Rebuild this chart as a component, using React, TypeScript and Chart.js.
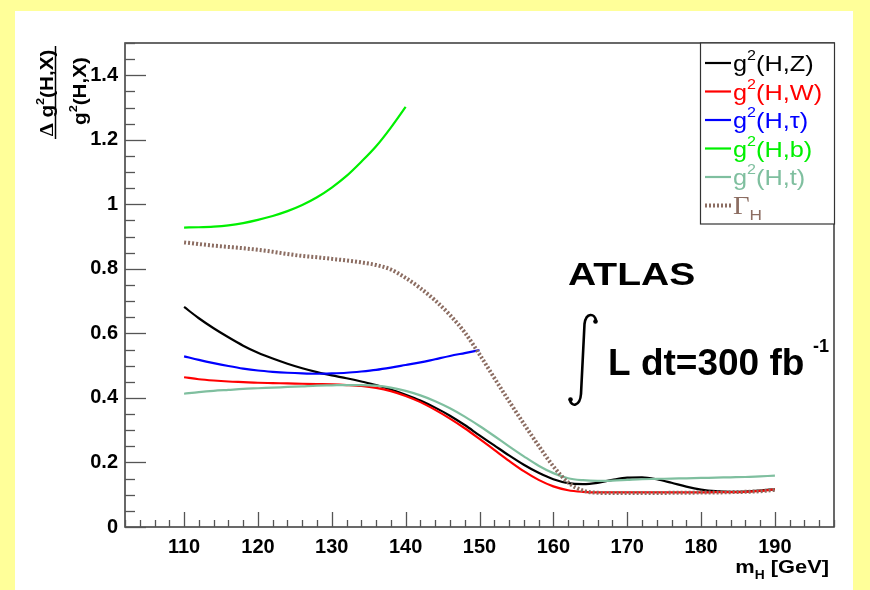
import React, { useEffect, useRef } from 'react';
import { Chart, registerables } from 'chart.js';

Chart.register(...registerables);

const FONT = '"Liberation Sans", Arial, Helvetica, sans-serif';
const SERIF = '"Liberation Serif", "Times New Roman", serif';

// Higgs mass points (GeV)
const massFull = [110, 112, 114, 116, 118, 120, 122, 124, 126, 128, 130, 132, 134, 136, 138, 140, 142, 144, 146, 148, 150, 152, 154, 156, 158, 160, 162, 164, 166, 168, 170, 172, 174, 176, 178, 180, 182, 184, 186, 188, 190];
const massB = [110, 112, 114, 116, 118, 120, 122, 124, 126, 128, 130, 132, 134, 136, 138, 140];
const massTau = [110, 112, 114, 116, 118, 120, 122, 124, 126, 128, 130, 132, 134, 136, 138, 140, 142, 144, 146, 148, 150];

const gZ = [0.682, 0.647, 0.616, 0.588, 0.562, 0.54, 0.522, 0.506, 0.492, 0.48, 0.47, 0.461, 0.451, 0.44, 0.426, 0.41, 0.392, 0.37, 0.345, 0.316, 0.284, 0.253, 0.222, 0.193, 0.168, 0.148, 0.136, 0.133, 0.137, 0.146, 0.153, 0.154, 0.148, 0.137, 0.125, 0.116, 0.111, 0.109, 0.11, 0.113, 0.117];
const gW = [0.464, 0.458, 0.454, 0.451, 0.449, 0.447, 0.446, 0.445, 0.444, 0.443, 0.442, 0.44, 0.437, 0.431, 0.421, 0.406, 0.387, 0.363, 0.336, 0.306, 0.273, 0.239, 0.205, 0.173, 0.146, 0.126, 0.114, 0.109, 0.107, 0.107, 0.107, 0.107, 0.107, 0.107, 0.107, 0.107, 0.108, 0.108, 0.109, 0.112, 0.117];
const gTau = [0.529, 0.518, 0.508, 0.499, 0.491, 0.485, 0.481, 0.478, 0.476, 0.475, 0.476, 0.478, 0.482, 0.487, 0.494, 0.502, 0.51, 0.52, 0.53, 0.539, 0.548];
const gB = [0.928, 0.929, 0.931, 0.935, 0.942, 0.952, 0.964, 0.979, 0.998, 1.022, 1.052, 1.088, 1.132, 1.18, 1.238, 1.302];
const gT = [0.413, 0.418, 0.422, 0.425, 0.428, 0.43, 0.432, 0.434, 0.436, 0.438, 0.439, 0.44, 0.44, 0.438, 0.432, 0.422, 0.408, 0.39, 0.368, 0.342, 0.313, 0.282, 0.25, 0.219, 0.19, 0.167, 0.151, 0.145, 0.143, 0.144, 0.146, 0.148, 0.149, 0.15, 0.151, 0.152, 0.153, 0.154, 0.155, 0.157, 0.159];
const gammaH = [0.882, 0.877, 0.872, 0.868, 0.864, 0.859, 0.853, 0.846, 0.84, 0.836, 0.831, 0.826, 0.82, 0.812, 0.798, 0.772, 0.74, 0.702, 0.657, 0.603, 0.535, 0.462, 0.39, 0.32, 0.252, 0.188, 0.138, 0.113, 0.106, 0.105, 0.105, 0.105, 0.105, 0.106, 0.106, 0.107, 0.107, 0.108, 0.109, 0.111, 0.115];

const xMajorTicks = [110, 120, 130, 140, 150, 160, 170, 180, 190];
const yMajorTicks = [0, 0.2, 0.4, 0.6, 0.8, 1, 1.2, 1.4];
const seriesLabels = ['g²(H,Z)', 'g²(H,W)', 'g²(H,τ)', 'g²(H,b)', 'g²(H,t)', 'Γ_H'];
const seriesColors = ['#000000', '#ff0000', '#0000ff', '#00f000', '#7fbf9f', '#8c6d62'];

type Part = { t: string; s: number; dy?: number; serif?: boolean };

function partFont(p: Part, weight: string) {
  return `${weight} ${p.s}px ${p.serif ? SERIF : FONT}`;
}
function richWidth(ctx: CanvasRenderingContext2D, parts: Part[], weight: string) {
  let w = 0;
  for (const p of parts) {
    ctx.font = partFont(p, weight);
    w += ctx.measureText(p.t).width;
  }
  return w;
}
function drawRich(ctx: CanvasRenderingContext2D, parts: Part[], x: number, y: number, weight: string, sx: number, align: string, color: string) {
  const w = richWidth(ctx, parts, weight) * sx;
  const x0 = align === 'left' ? x : align === 'center' ? x - w / 2 : x - w;
  ctx.save();
  ctx.translate(x0, y);
  ctx.scale(sx, 1);
  ctx.fillStyle = color;
  ctx.textBaseline = 'alphabetic';
  ctx.textAlign = 'left';
  let cx = 0;
  for (const p of parts) {
    ctx.font = partFont(p, weight);
    ctx.fillText(p.t, cx, p.dy || 0);
    cx += ctx.measureText(p.t).width;
  }
  ctx.restore();
}
function labelParts(label: string, size: number): Part[] {
  if (label.startsWith('g²')) {
    return [{ t: 'g', s: size }, { t: '2', s: Math.round(size * 0.62), dy: -size * 0.5 }, { t: label.slice(2), s: size }];
  }
  return [{ t: 'Γ', s: size + 3, serif: true }, { t: 'H', s: Math.round(size * 0.7), dy: size * 0.3 }];
}

const overlay = {
  id: 'rootStyle',
  beforeDraw(chart: any) {
    const ctx = chart.ctx as CanvasRenderingContext2D;
    ctx.save();
    ctx.fillStyle = '#ffff99';
    ctx.fillRect(0, 0, chart.width, chart.height);
    ctx.fillStyle = '#ffffff';
    ctx.fillRect(15, 11, 838, chart.height - 11);
    ctx.restore();
  },
  afterDatasetsDraw(chart: any) {
    const ctx = chart.ctx as CanvasRenderingContext2D;
    const { left, right, top, bottom } = chart.chartArea;
    const xs = chart.scales.x;
    const ys = chart.scales.y;
    ctx.save();
    // frame
    ctx.strokeStyle = '#444';
    ctx.lineWidth = 1.6;
    ctx.strokeRect(left, top, right - left, bottom - top);
    // x ticks (inside)
    ctx.strokeStyle = '#555';
    ctx.lineWidth = 1.3;
    for (let v = Math.ceil(xs.min / 2) * 2; v <= xs.max; v += 2) {
      const px = Math.round(xs.getPixelForValue(v)) + 0.5;
      const len = v % 10 === 0 ? 15 : 7;
      ctx.beginPath();
      ctx.moveTo(px, bottom);
      ctx.lineTo(px, bottom - len);
      ctx.stroke();
    }
    // y ticks (inside)
    for (let i = 0; i <= 30; i++) {
      const v = i * 0.05;
      if (v > ys.max + 1e-9) break;
      const py = Math.round(ys.getPixelForValue(v)) + 0.5;
      const len = i % 4 === 0 ? 21 : 10;
      ctx.beginPath();
      ctx.moveTo(left, py);
      ctx.lineTo(left + len, py);
      ctx.stroke();
    }

    // legend
    const lx0 = 700, lx1 = right, ly0 = top, ly1 = 224;
    ctx.fillStyle = '#ffffff';
    ctx.fillRect(lx0, ly0, lx1 - lx0, ly1 - ly0);
    ctx.strokeStyle = '#333';
    ctx.lineWidth = 1.2;
    ctx.strokeRect(lx0 + 0.5, ly0, lx1 - lx0, ly1 - ly0);
    chart.data.datasets.forEach((ds: any, i: number) => {
      const cy = 63 + i * 28.5;
      ctx.save();
      ctx.strokeStyle = ds.borderColor;
      ctx.lineWidth = ds.borderWidth;
      ctx.setLineDash(ds.borderDash || []);
      ctx.beginPath();
      ctx.moveTo(705, cy);
      ctx.lineTo(731, cy);
      ctx.stroke();
      ctx.restore();
      drawRich(ctx, labelParts(ds.label, 22), 733, cy + 8, 'normal', 1.15, 'left', ds.borderColor);
    });

    // ATLAS label
    drawRich(ctx, [{ t: 'ATLAS', s: 32 }], 568, 285, 'bold', 1.22, 'left', '#000');
    // integral sign
    ctx.strokeStyle = '#000';
    ctx.fillStyle = '#000';
    ctx.lineWidth = 2.6;
    ctx.beginPath();
    ctx.moveTo(596, 321);
    ctx.bezierCurveTo(595, 313, 586, 312, 584.5, 324);
    ctx.lineTo(581, 394);
    ctx.bezierCurveTo(580, 407, 571, 407, 570, 400);
    ctx.stroke();
    ctx.beginPath();
    ctx.arc(595.5, 321.5, 2.3, 0, Math.PI * 2);
    ctx.fill();
    ctx.beginPath();
    ctx.arc(570.5, 399.5, 2.3, 0, Math.PI * 2);
    ctx.fill();
    drawRich(ctx, [{ t: 'L dt=300 fb', s: 37 }], 608, 375, 'bold', 1.0, 'left', '#000');
    drawRich(ctx, [{ t: '-1', s: 18 }], 813, 352, 'bold', 1.0, 'left', '#000');

    // x-axis title
    drawRich(ctx, [{ t: 'm', s: 19 }, { t: 'H', s: 12, dy: 6 }, { t: ' [GeV]', s: 19 }], 829, 573, 'bold', 1.15, 'right', '#000');

    // y-axis title (fraction, rotated)
    ctx.save();
    ctx.translate(53, 93);
    ctx.rotate(-Math.PI / 2);
    drawRich(ctx, [{ t: 'Δ', s: 18, serif: true }, { t: ' g', s: 18 }, { t: '2', s: 11, dy: -9 }, { t: '(H,X)', s: 18 }], 0, 0, 'bold', 1.15, 'center', '#000');
    ctx.strokeStyle = '#000';
    ctx.lineWidth = 1.5;
    ctx.beginPath();
    ctx.moveTo(-46, 2.5);
    ctx.lineTo(47, 2.5);
    ctx.stroke();
    ctx.restore();
    ctx.save();
    ctx.translate(86, 91);
    ctx.rotate(-Math.PI / 2);
    drawRich(ctx, [{ t: 'g', s: 18 }, { t: '2', s: 11, dy: -9 }, { t: '(H,X)', s: 18 }], 0, 0, 'bold', 1.15, 'center', '#000');
    ctx.restore();

    ctx.restore();
  },
};

function pts(xs: number[], ys: number[]) {
  return xs.map((x, i) => ({ x, y: ys[i] }));
}

export default function App() {
  const ref = useRef<HTMLCanvasElement | null>(null);
  useEffect(() => {
    if (!ref.current) return;
    const seriesData = [pts(massFull, gZ), pts(massFull, gW), pts(massTau, gTau), pts(massB, gB), pts(massFull, gT), pts(massFull, gammaH)];
    const datasets = seriesData.map((data, i) => ({
      label: seriesLabels[i],
      data,
      borderColor: seriesColors[i],
      backgroundColor: seriesColors[i],
      borderWidth: i === 5 ? 4 : 2.2,
      borderDash: i === 5 ? [2, 2] : [],
      pointRadius: 0,
      fill: false,
      cubicInterpolationMode: 'monotone' as const,
      order: 5 - i,
    }));
    const chart = new Chart(ref.current, {
      type: 'line',
      data: { datasets },
      options: {
        animation: false,
        responsive: false,
        maintainAspectRatio: false,
        layout: { padding: { left: 0, top: 43, right: 36, bottom: 0 } },
        plugins: { legend: { display: false }, tooltip: { enabled: false }, title: { display: false } },
        scales: {
          x: {
            type: 'linear',
            min: 102,
            max: 198,
            grid: { display: false, drawTicks: false },
            border: { display: false },
            afterBuildTicks: (s: any) => { s.ticks = xMajorTicks.map((v) => ({ value: v })); },
            afterFit: (s: any) => { s.height = 63; },
            ticks: { color: '#000', font: { family: FONT, size: 20, weight: 'bold' }, padding: 8, maxRotation: 0, autoSkip: false },
          },
          y: {
            type: 'linear',
            min: 0,
            max: 1.5,
            grid: { display: false, drawTicks: false },
            border: { display: false },
            afterBuildTicks: (s: any) => { s.ticks = yMajorTicks.map((v) => ({ value: v })); },
            afterFit: (s: any) => { s.width = 125; },
            ticks: {
              color: '#000',
              font: { family: FONT, size: 20, weight: 'bold' },
              padding: 7,
              autoSkip: false,
              callback: (v: any) => String(Number(Number(v).toFixed(2))),
            },
          },
        },
      },
      plugins: [overlay],
    });
    return () => chart.destroy();
  }, []);
  return (
    <div style={{ position: 'absolute', left: 0, top: 0, width: 870, height: 590 }}>
      <canvas ref={ref} width={870} height={590} style={{ width: 870, height: 590, display: 'block' }} />
    </div>
  );
}
